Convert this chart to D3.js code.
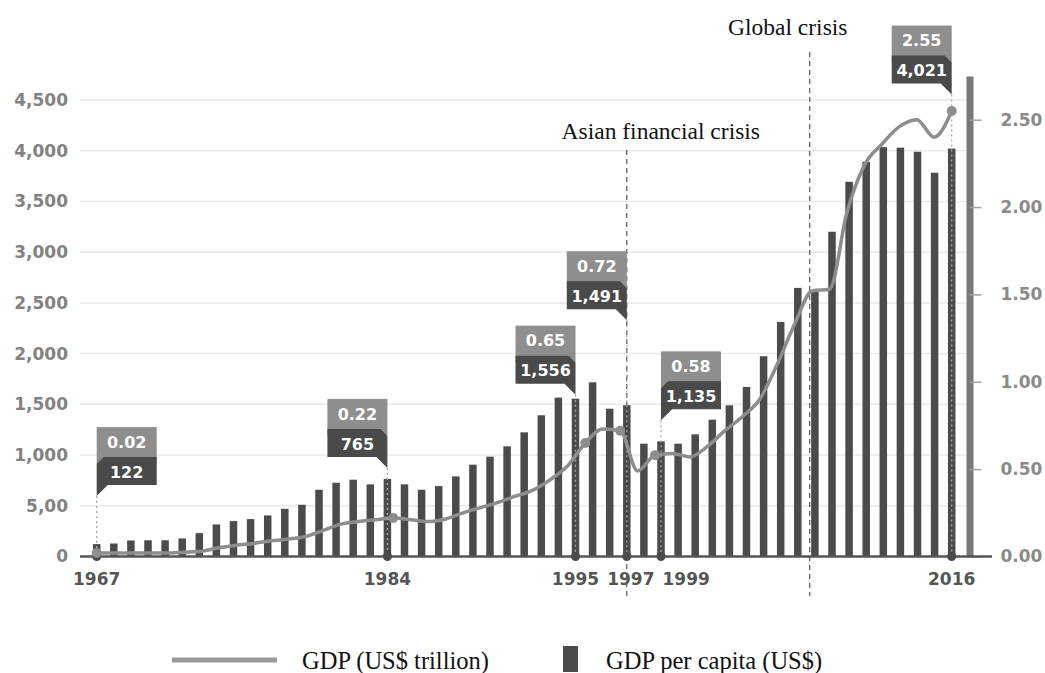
<!DOCTYPE html>
<html>
<head>
<meta charset="utf-8">
<script src="https://cdn.jsdelivr.net/npm/d3@7"></script>
<style>
  html, body { margin: 0; padding: 0; background: #fff; }
  svg { display: block; }
  .num { font-family: "DejaVu Sans", sans-serif; font-weight: bold; }
  .serif { font-family: "Liberation Serif", "Times New Roman", serif; }
</style>
</head>
<body>
<svg id="chart" width="1045" height="673"></svg>
<script>
// ---- data -------------------------------------------------------------
// GDP per capita (US$), one bar per slot along the time axis
const perCapita = [
  122, 128, 158, 160, 160, 178, 230, 316, 349, 369,
  405, 470, 510, 658, 727, 757, 711, 765, 711, 658,
  694, 790, 905, 984, 1086, 1224, 1392, 1566, 1556, 1717,
  1457, 1491, 1112, 1135, 1112, 1204, 1349, 1490, 1671, 1974,
  2312, 2648, 2609, 3201, 3694, 3891, 4035, 4030, 3990, 3783,
  4021
];

// GDP (US$ trillion), yearly
const years = [
  1967, 1968, 1969, 1970, 1971, 1972, 1973, 1974, 1975, 1976,
  1977, 1978, 1979, 1980, 1981, 1982, 1983, 1984, 1985, 1986,
  1987, 1988, 1989, 1990, 1991, 1992, 1993, 1994, 1995, 1996,
  1997, 1998, 1999, 2000, 2001, 2002, 2003, 2004, 2005, 2006,
  2007, 2008, 2009, 2010, 2011, 2012, 2013, 2014, 2015, 2016
];
const gdp = [
  0.02, 0.02, 0.02, 0.02, 0.02, 0.025, 0.03, 0.05, 0.065, 0.075,
  0.09, 0.10, 0.115, 0.15, 0.185, 0.20, 0.21, 0.22, 0.21, 0.20,
  0.215, 0.25, 0.28, 0.31, 0.345, 0.38, 0.44, 0.52, 0.65, 0.73,
  0.72, 0.49, 0.58, 0.59, 0.57, 0.63, 0.72, 0.80, 0.90, 1.10,
  1.33, 1.52, 1.53, 1.97, 2.24, 2.36, 2.46, 2.50, 2.40, 2.55
];

// labelled years on the time axis and the bar slot each one sits under
const tickYears = [1967, 1984, 1995, 1997, 1999, 2016];
const tickSlots = [0, 17, 28, 31, 33, 50];

// left and right axis ticks
const leftTicks = [0, 500, 1000, 1500, 2000, 2500, 3000, 3500, 4000, 4500];
const leftTickLabels = ["0", "5,00", "1,000", "1,500", "2,000", "2,500", "3,000", "3,500", "4,000", "4,500"];
const rightTicks = [0, 0.5, 1.0, 1.5, 2.0, 2.5];

// crisis markers (position in bar slots)
const crisisNames = ["Asian financial crisis", "Global crisis"];
const crisisSlots = [31, 41.7];

// ---- layout -----------------------------------------------------------
const svg = d3.select("#chart");
const base = 556.5;
const plotLeft = 80, rightAxisX = 969.5;

const x = d3.scaleLinear().domain([0, perCapita.length - 1]).range([96.7, 951.7]);
const xYear = d3.scaleLinear().domain([years[0], years[years.length - 1]]).range([96.7, 951.7]);
const yL = d3.scaleLinear().domain([0, 4500]).range([base, 100]);
const yR = d3.scaleLinear().domain([0, 2.75]).range([base, 76]);

const barColor = "#4b4b4b";
const lineColor = "#8d8d8d";
const axisFont = 17;

// gridlines
svg.append("g")
  .selectAll("line")
  .data(leftTicks.slice(1))
  .join("line")
  .attr("x1", plotLeft).attr("x2", rightAxisX)
  .attr("y1", d => yL(d)).attr("y2", d => yL(d))
  .attr("stroke", "#e9e9e9").attr("stroke-width", 1.5);

// left axis
const leftAxis = svg.append("g")
  .attr("class", "num")
  .attr("transform", `translate(${plotLeft},0)`)
  .call(d3.axisLeft(yL).tickValues(leftTicks)
    .tickFormat((d, i) => leftTickLabels[i]).tickSize(0).tickPadding(12));
leftAxis.select(".domain").remove();
leftAxis.selectAll("text").attr("fill", "#828282").attr("font-size", axisFont)
  .attr("font-family", "DejaVu Sans").attr("font-weight", "bold");

// bars
const barW = 7.5;
svg.append("g")
  .selectAll("rect")
  .data(perCapita)
  .join("rect")
  .attr("x", (d, i) => x(i) - barW / 2)
  .attr("y", d => yL(d))
  .attr("width", barW)
  .attr("height", d => base - yL(d))
  .attr("fill", barColor);

// right axis with a heavy spine
const rightAxis = svg.append("g")
  .attr("class", "num")
  .attr("transform", `translate(${rightAxisX},0)`)
  .call(d3.axisRight(yR).tickValues(rightTicks).tickFormat(d3.format(".2f"))
    .tickSize(12).tickSizeOuter(0).tickPadding(19));
rightAxis.select(".domain").attr("stroke", "#787878").attr("stroke-width", 7);
rightAxis.selectAll(".tick line").attr("stroke", "#a0a0a0").attr("stroke-width", 1.5);
rightAxis.selectAll("text").attr("fill", "#8a8a8a").attr("font-size", axisFont)
  .attr("font-family", "DejaVu Sans").attr("font-weight", "bold");

// baseline
svg.append("line")
  .attr("x1", plotLeft).attr("x2", 992)
  .attr("y1", base).attr("y2", base)
  .attr("stroke", "#555").attr("stroke-width", 2.5);

// crisis dashed lines and their titles
const crisisTop = [150, 52];
const crisisTitleDx = [34, -22];
const crisisTitleY = [139, 35];
crisisNames.forEach((name, i) => {
  const cx = x(crisisSlots[i]);
  svg.append("line")
    .attr("x1", cx).attr("x2", cx)
    .attr("y1", crisisTop[i]).attr("y2", 596)
    .attr("stroke", "#333").attr("stroke-width", 1)
    .attr("stroke-dasharray", "5,4");
  svg.append("text")
    .attr("class", "serif")
    .attr("x", cx + crisisTitleDx[i]).attr("y", crisisTitleY[i])
    .attr("text-anchor", "middle")
    .attr("font-size", 23.5).attr("fill", "#111")
    .text(name);
});

// GDP line
svg.append("path")
  .datum(gdp)
  .attr("fill", "none")
  .attr("stroke", lineColor)
  .attr("stroke-width", 3.5)
  .attr("stroke-linejoin", "round")
  .attr("d", d3.line()
    .x((d, i) => xYear(years[i]))
    .y(d => yR(d))
    .curve(d3.curveMonotoneX));

// x tick labels, nudged right when they would collide
const tickG = svg.append("g").attr("class", "num");
let prevRight = -Infinity;
tickYears.forEach((yr, i) => {
  const t = tickG.append("text")
    .attr("x", x(tickSlots[i])).attr("y", 585)
    .attr("text-anchor", "middle")
    .attr("font-size", axisFont).attr("fill", "#555")
    .text(yr);
  const bb = t.node().getBBox();
  if (bb.x < prevRight + 8) {
    t.attr("x", x(tickSlots[i]) + (prevRight + 8 - bb.x));
  }
  prevRight = t.node().getBBox().x + t.node().getBBox().width;
});

// callouts: GDP over GDP per capita for the labelled years
const side = ["left", "right", "right", "right", "left", "right"];
const lift = [48, 11, 4, 85, 21, 54];
const boxW = 60, lightH = 30, darkH = 28, tail = 11, notch = 7;
const fmtGdp = d3.format(".2f"), fmtPc = d3.format(",");

tickYears.forEach((yr, i) => {
  const slot = tickSlots[i];
  const tx = x(slot);
  const gv = gdp[years.indexOf(yr)];
  const pv = perCapita[slot];
  const tipY = yL(pv) - lift[i];
  const dBottom = tipY - tail;
  const dTop = dBottom - darkH;
  const lTop = dTop - lightH;
  const right = side[i] === "right";
  const L = right ? tx - boxW : tx;
  const R = right ? tx : tx + boxW;

  // dotted guide from the callout down to the baseline
  svg.append("line")
    .attr("x1", tx).attr("x2", tx)
    .attr("y1", tipY).attr("y2", base)
    .attr("stroke", "#a8a8a8").attr("stroke-width", 1.3)
    .attr("stroke-dasharray", "2,3");

  // marker dots
  svg.append("circle").attr("cx", tx).attr("cy", base).attr("r", 4.5).attr("fill", barColor);
  svg.append("circle").attr("cx", xYear(yr)).attr("cy", yR(gv)).attr("r", 5).attr("fill", lineColor);

  const g = svg.append("g");
  g.append("rect")
    .attr("x", L).attr("y", lTop)
    .attr("width", boxW).attr("height", lightH + notch)
    .attr("fill", "#8e8e8e");
  const pts = right
    ? [[L, dTop], [R - notch, dTop], [R, dTop + notch], [R, tipY], [R - tail, dBottom], [L, dBottom]]
    : [[L, dTop + notch], [L + notch, dTop], [R, dTop], [R, dBottom], [L + tail, dBottom], [L, tipY]];
  g.append("polygon")
    .attr("points", pts.map(p => p.join(",")).join(" "))
    .attr("fill", "#4a4a4a");
  g.append("text").attr("class", "num")
    .attr("x", (L + R) / 2).attr("y", lTop + lightH / 2)
    .attr("dy", "0.36em").attr("text-anchor", "middle")
    .attr("font-size", 16).attr("fill", "#fff")
    .text(fmtGdp(gv));
  g.append("text").attr("class", "num")
    .attr("x", (L + R) / 2).attr("y", dTop + darkH / 2 + 1)
    .attr("dy", "0.36em").attr("text-anchor", "middle")
    .attr("font-size", 16).attr("fill", "#fff")
    .text(fmtPc(pv));
});

// legend
const leg = svg.append("g").attr("class", "serif");
leg.append("line")
  .attr("x1", 172).attr("x2", 277).attr("y1", 660).attr("y2", 660)
  .attr("stroke", "#9a9a9a").attr("stroke-width", 5);
leg.append("text").attr("x", 302).attr("y", 669)
  .attr("font-size", 24.5).attr("fill", "#111").text("GDP (US$ trillion)");
leg.append("rect").attr("x", 563).attr("y", 646).attr("width", 15).attr("height", 26)
  .attr("fill", barColor);
leg.append("text").attr("x", 606).attr("y", 669)
  .attr("font-size", 24.5).attr("fill", "#111").text("GDP per capita (US$)");
</script>
</body>
</html>
